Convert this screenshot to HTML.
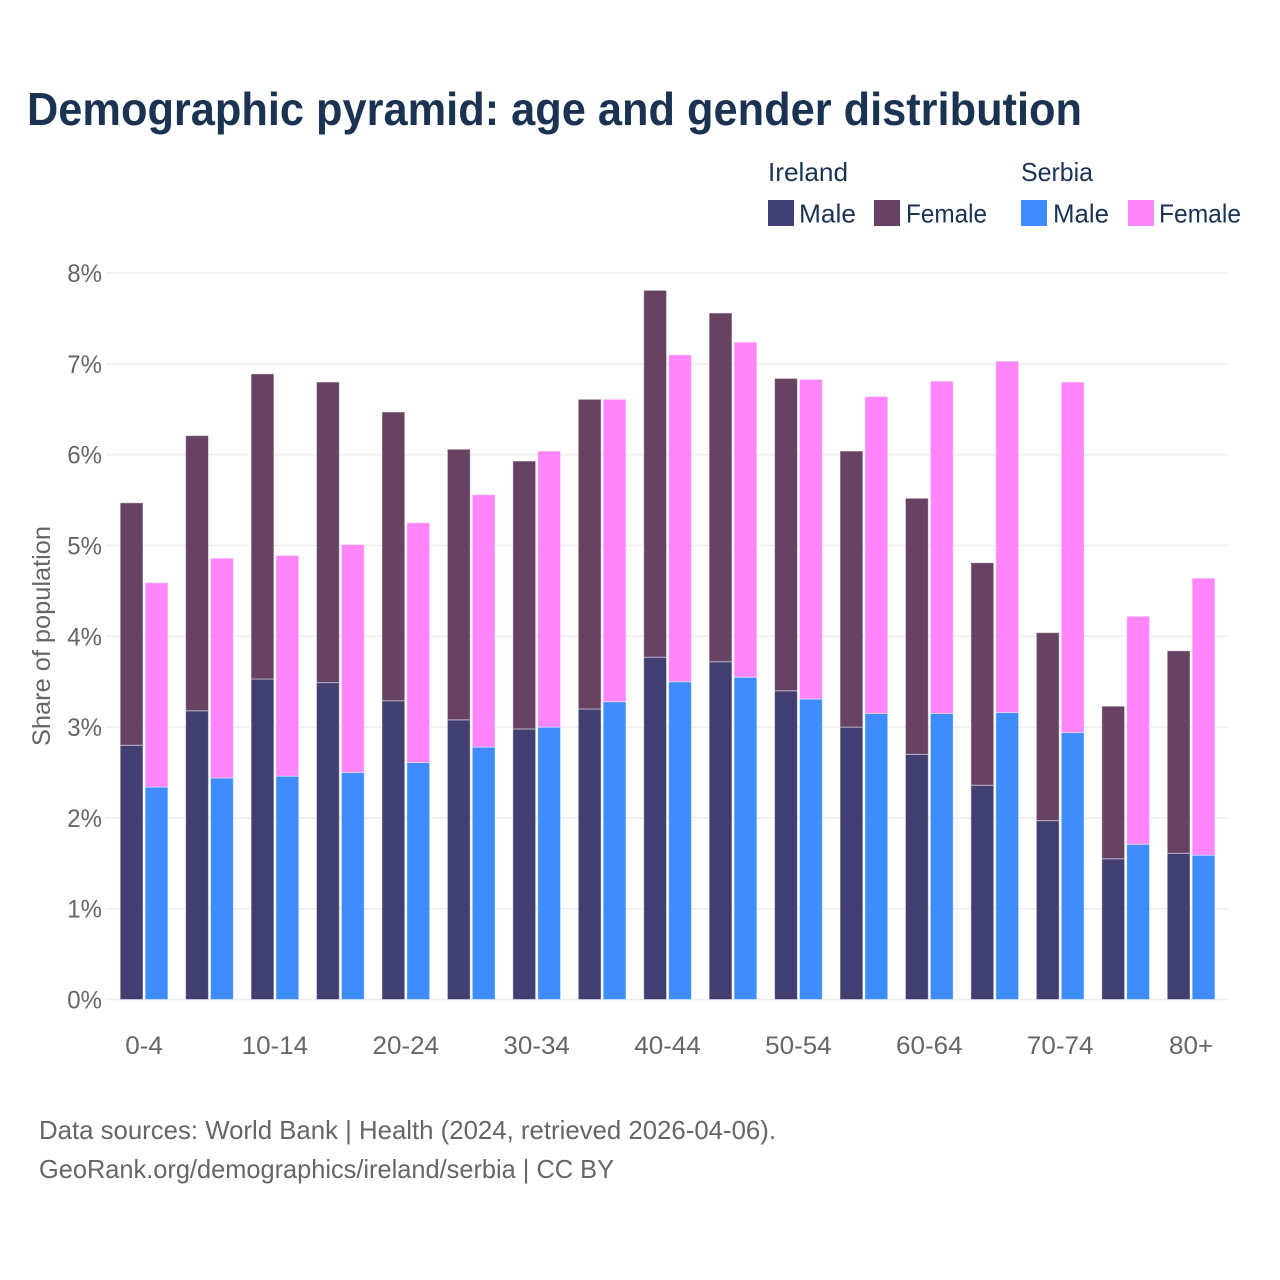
<!DOCTYPE html>
<html lang="en">
<head>
<meta charset="utf-8">
<title>Demographic pyramid: age and gender distribution</title>
<style>
html,body{margin:0;padding:0;background:#fff;}
svg{display:block;font-family:"Liberation Sans",sans-serif;}
</style>
</head>
<body>
<svg id="chart" width="1280" height="1280" viewBox="0 0 1280 1280" xmlns="http://www.w3.org/2000/svg">
  <rect width="1280" height="1280" fill="#fff"/>
  <text x="27" y="125" font-size="46" font-weight="700" fill="#1a3353" textLength="1055" lengthAdjust="spacingAndGlyphs">Demographic pyramid: age and gender distribution</text>

  <g font-size="26" fill="#1a3353">
    <text x="768" y="181" textLength="80" lengthAdjust="spacingAndGlyphs">Ireland</text>
    <text x="1021" y="181" textLength="72" lengthAdjust="spacingAndGlyphs">Serbia</text>
    <rect x="768" y="200" width="26" height="26" fill="#413f71"/>
    <text x="799" y="222.5" textLength="57" lengthAdjust="spacingAndGlyphs">Male</text>
    <rect x="874" y="200" width="26" height="26" fill="#674262"/>
    <text x="906" y="222.5" textLength="81" lengthAdjust="spacingAndGlyphs">Female</text>
    <rect x="1021" y="200" width="26" height="26" fill="#3f8cff"/>
    <text x="1053" y="222.5" textLength="56" lengthAdjust="spacingAndGlyphs">Male</text>
    <rect x="1128" y="200" width="26" height="26" fill="#ff85fb"/>
    <text x="1159" y="222.5" textLength="82" lengthAdjust="spacingAndGlyphs">Female</text>
  </g>

  <g id="grid"></g>
  <g id="bars"></g>
  <g id="yticks"></g>
  <g id="xticks"></g>

  <text transform="translate(50,636) rotate(-90)" text-anchor="middle" font-size="25" fill="#666" textLength="220" lengthAdjust="spacingAndGlyphs">Share of population</text>

  <text x="39" y="1139" font-size="26" fill="#666" textLength="737" lengthAdjust="spacingAndGlyphs">Data sources: World Bank | Health (2024, retrieved 2026-04-06).</text>
  <text x="39" y="1178" font-size="26" fill="#666" textLength="575" lengthAdjust="spacingAndGlyphs">GeoRank.org/demographics/ireland/serbia | CC BY</text>
</svg>
<script>
const categories = ["0-4","5-9","10-14","15-19","20-24","25-29","30-34","35-39","40-44","45-49","50-54","55-59","60-64","65-69","70-74","75-79","80+"];
const irelandMale = [2.80,3.18,3.53,3.49,3.29,3.08,2.98,3.20,3.77,3.72,3.40,3.00,2.70,2.36,1.97,1.55,1.61];
const irelandFemale = [2.67,3.03,3.36,3.31,3.18,2.98,2.95,3.41,4.04,3.84,3.44,3.04,2.82,2.45,2.07,1.68,2.23];
const serbiaMale = [2.34,2.44,2.46,2.50,2.61,2.78,3.00,3.28,3.50,3.55,3.31,3.15,3.15,3.16,2.94,1.71,1.59];
const serbiaFemale = [2.25,2.42,2.43,2.51,2.64,2.78,3.04,3.33,3.60,3.69,3.52,3.49,3.66,3.87,3.86,2.51,3.05];
const yTickValues = [0,1,2,3,4,5,6,7,8];
const xTickLabels = ["0-4","10-14","20-24","30-34","40-44","50-54","60-64","70-74","80+"];

const NS = "http://www.w3.org/2000/svg";
const plotLeft = 106, plotRight = 1228, y0 = 999.5, pxPerUnit = 90.8;
const firstBand = 111.3, bandStep = 65.44, barWidth = 22.8, barOffset = 8.9, barGap = 24.9;

function yScale(v){ return y0 - v * pxPerUnit; }
function xScale(cat){ return firstBand + categories.indexOf(cat) * bandStep; }
function narrow(el, factor){ el.setAttribute('textLength', (el.getComputedTextLength() * factor).toFixed(1)); el.setAttribute('lengthAdjust', 'spacingAndGlyphs'); }

const grid = document.getElementById('grid');
const yticks = document.getElementById('yticks');
yTickValues.forEach(function(v){
  const line = document.createElementNS(NS, 'line');
  
  
  line.setAttribute('x1', plotLeft);
  line.setAttribute('x2', plotRight);
  line.setAttribute('y1', yScale(v));
  line.setAttribute('y2', yScale(v));
  line.setAttribute('stroke', '#ececec');
  line.setAttribute('stroke-width', '1.5');
  grid.appendChild(line);

  const t = document.createElementNS(NS, 'text');
  
  
  t.setAttribute('x', 102);
  t.setAttribute('y', yScale(v) + 9);
  t.setAttribute('text-anchor', 'end');
  t.setAttribute('font-size', '25');
  t.setAttribute('fill', '#666');
  t.textContent = v + '%';
  yticks.appendChild(t);
  narrow(t, 0.96);
});

const xticks = document.getElementById('xticks');
xTickLabels.forEach(function(label){
  const t = document.createElementNS(NS, 'text');
  
  
  t.setAttribute('x', xScale(label) + bandStep / 2);
  t.setAttribute('y', 1054);
  t.setAttribute('text-anchor', 'middle');
  t.setAttribute('font-size', '25');
  t.setAttribute('fill', '#666');
  t.textContent = label;
  xticks.appendChild(t);
  narrow(t, 1.04);
});

const bars = document.getElementById('bars');
function addBar(x, base, value, fill, name){
  const r = document.createElementNS(NS, 'rect');
  
  
  r.setAttribute('x', x);
  r.setAttribute('y', yScale(base + value));
  r.setAttribute('width', barWidth);
  r.setAttribute('height', value * pxPerUnit);
  r.setAttribute('fill', fill);
  r.setAttribute('stroke', 'rgba(255,255,255,0.45)');
  r.setAttribute('stroke-width', '1');
  bars.appendChild(r);
}
categories.forEach(function(cat, i){
  const x1 = xScale(cat) + barOffset;
  const x2 = x1 + barGap;
  addBar(x1, 0, irelandMale[i], '#413f71', 'bar-ireland-male');
  addBar(x1, irelandMale[i], irelandFemale[i], '#674262', 'bar-ireland-female');
  addBar(x2, 0, serbiaMale[i], '#3f8cff', 'bar-serbia-male');
  addBar(x2, serbiaMale[i], serbiaFemale[i], '#ff85fb', 'bar-serbia-female');
});
</script>
</body>
</html>
